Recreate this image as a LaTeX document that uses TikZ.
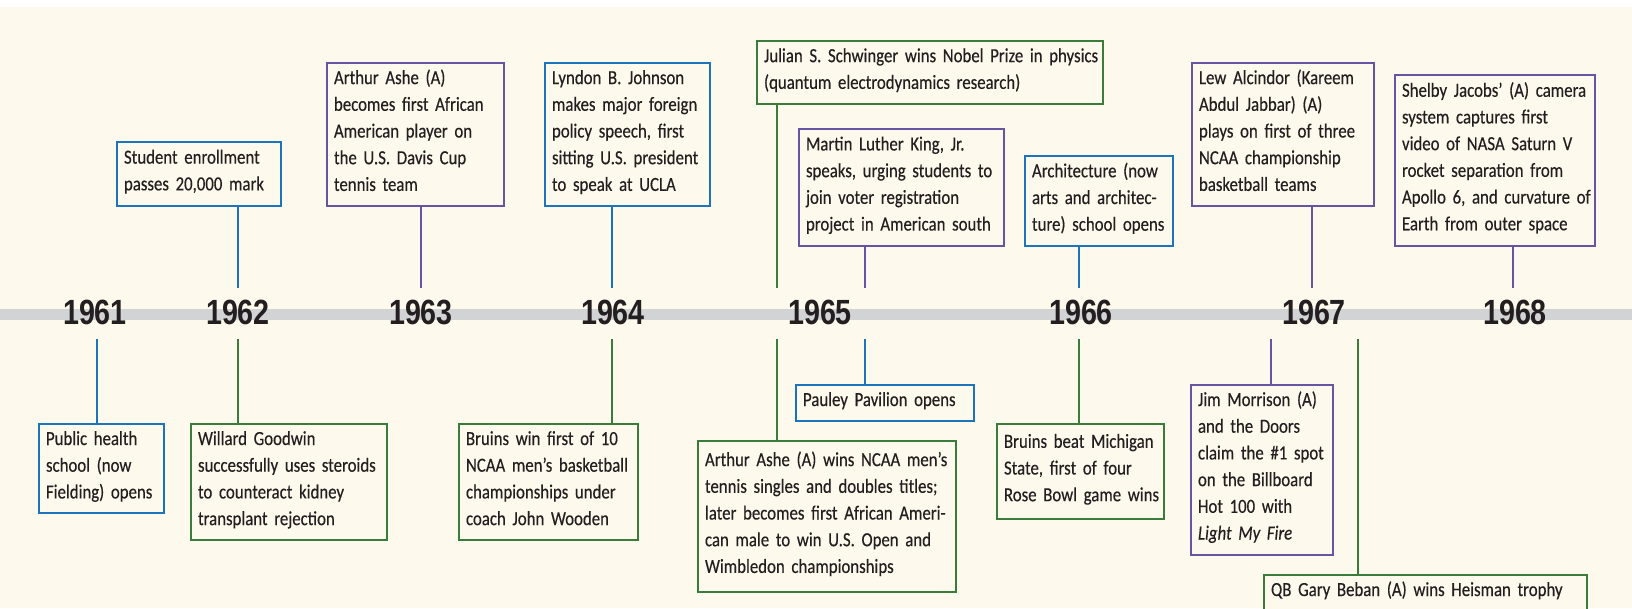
\documentclass[tikz,border=0pt]{standalone}
\usepackage{fontspec}
\setmainfont[FakeStretch=0.84,FakeBold=0.35]{Carlito}
\newfontfamily\yearfont[FakeStretch=0.82]{Liberation Sans}
\definecolor{cream}{RGB}{253,249,236}
\definecolor{barg}{RGB}{209,211,212}
\definecolor{cblue}{RGB}{28,117,188}
\definecolor{cpurple}{RGB}{104,84,160}
\definecolor{cgreen}{RGB}{58,125,58}
\definecolor{ink}{RGB}{35,31,32}
\newcommand\tb[1]{\rule{0pt}{21pt}#1\rule[-15pt]{0pt}{15pt}}
\tikzset{
  evt/.style={draw, line width=2pt, fill=cream, anchor=north west,
    inner xsep=7pt, inner ysep=0pt, align=left, text=ink,
    font=\fontsize{20}{26.7}\selectfont},
  evb/.style={evt, draw=cblue},
  evp/.style={evt, draw=cpurple},
  evg/.style={evt, draw=cgreen},
  link/.style={line width=2pt},
  yr/.style={text=ink, inner sep=0pt, font=\yearfont\bfseries\fontsize{35}{35}\selectfont}
}
\begin{document}
\begin{tikzpicture}[x=1pt,y=-1pt]
\useasboundingbox (0,0) rectangle (1632,608);
\clip (0,0) rectangle (1632,608);
\fill[white] (0,0) rectangle (1632,608);
\fill[cream] (0,7) rectangle (1632,608);
\fill[barg] (0,309) rectangle (1632,320);

% years
\node[yr] (y61) at (95,312.5) {1961};
\node[yr] (y62) at (238,312.5) {1962};
\node[yr] (y63) at (421,312.5) {1963};
\node[yr] (y64) at (613,312.5) {1964};
\node[yr] (y65) at (820,312.5) {1965};
\node[yr] (y66) at (1081,312.5) {1966};
\node[yr] (y67) at (1314,312.5) {1967};
\node[yr] (y68) at (1515,312.5) {1968};

% connector ends near the timeline
\coordinate (u62) at (238,288);
\coordinate (u63) at (421,288);
\coordinate (u64) at (612,288);
\coordinate (u65a) at (777,288);
\coordinate (u65b) at (865,288);
\coordinate (u66) at (1079,288);
\coordinate (u67) at (1312,288);
\coordinate (u68) at (1513,288);
\coordinate (d61) at (97,339);
\coordinate (d62) at (238,339);
\coordinate (d64) at (612,339);
\coordinate (d65a) at (777,339);
\coordinate (d65b) at (865,339);
\coordinate (d66) at (1079,339);
\coordinate (d67a) at (1271,339);
\coordinate (d67b) at (1358,339);

% upper events
\node[evb, text width=150pt, minimum height=64pt] (enroll) at (116,141)
  {\tb{\mbox{Student enrollment}\\\mbox{passes 20,000 mark}}};
\node[evp, text width=163pt, minimum height=143pt] (ashe63) at (326,62)
  {\tb{\mbox{Arthur Ashe (A)}\\\mbox{becomes first African}\\\mbox{American player on}\\\mbox{the U.S. Davis Cup}\\\mbox{tennis team}}};
\node[evb, text width=151pt, minimum height=143pt] (lbj) at (544,62)
  {\tb{\mbox{Lyndon B. Johnson}\\\mbox{makes major foreign}\\\mbox{policy speech, first}\\\mbox{sitting U.S. president}\\\mbox{to speak at UCLA}}};
\node[evg, text width=332pt, minimum height=63pt] (schwinger) at (756,40)
  {\tb{\mbox{Julian S. Schwinger wins Nobel Prize in physics}\\\mbox{(quantum electrodynamics research)}}};
\node[evp, text width=191pt, minimum height=117pt] (mlk) at (798,128)
  {\tb{\mbox{Martin Luther King, Jr.}\\\mbox{speaks, urging students to}\\\mbox{join voter registration}\\\mbox{project in American south}}};
\node[evb, text width=134pt, minimum height=90pt] (arch) at (1024,155)
  {\tb{\mbox{Architecture (now}\\\mbox{arts and architec-}\\\mbox{ture) school opens}}};
\node[evp, text width=168pt, minimum height=143pt] (alcindor) at (1191,62)
  {\tb{\mbox{Lew Alcindor (Kareem}\\\mbox{Abdul Jabbar) (A)}\\\mbox{plays on first of three}\\\mbox{NCAA championship}\\\mbox{basketball teams}}};
\node[evp, text width=186pt, minimum height=171pt] (jacobs) at (1394,74)
  {\tb{\mbox{Shelby Jacobs' (A) camera}\\\mbox{system captures first}\\\mbox{video of NASA Saturn V}\\\mbox{rocket separation from}\\\mbox{Apollo 6, and curvature of}\\\mbox{Earth from outer space}}};

% lower events
\node[evb, text width=111pt, minimum height=89pt] (health) at (38,423)
  {\tb{\mbox{Public health}\\\mbox{school (now}\\\mbox{Fielding) opens}}};
\node[evg, text width=182pt, minimum height=116pt] (goodwin) at (190,423)
  {\tb{\mbox{Willard Goodwin}\\\mbox{successfully uses steroids}\\\mbox{to counteract kidney}\\\mbox{transplant rejection}}};
\node[evg, text width=165pt, minimum height=116pt] (bruins10) at (458,423)
  {\tb{\mbox{Bruins win first of 10}\\\mbox{NCAA men's basketball}\\\mbox{championships under}\\\mbox{coach John Wooden}}};
\node[evg, text width=244pt, minimum height=151pt] (ashe65) at (697,440)
  {\tb{\mbox{Arthur Ashe (A) wins NCAA men's}\\\mbox{tennis singles and doubles titles;}\\\mbox{later becomes first African Ameri-}\\\mbox{can male to win U.S. Open and}\\\mbox{Wimbledon championships}}};
\node[evb, text width=164pt, minimum height=36pt] (pauley) at (795,384)
  {\tb{\mbox{Pauley Pavilion opens}}};
\node[evg, text width=153pt, minimum height=95pt] (rosebowl) at (996,423)
  {\tb{\mbox{Bruins beat Michigan}\\\mbox{State, first of four}\\\mbox{Rose Bowl game wins}}};
\node[evp, text width=128pt, minimum height=169pt] (doors) at (1190,384)
  {\tb{\mbox{Jim Morrison (A)}\\\mbox{and the Doors}\\\mbox{claim the \#1 spot}\\\mbox{on the Billboard}\\\mbox{Hot 100 with}\\\mbox{\textit{Light My Fire}}}};
\node[evg, text width=309pt, minimum height=36pt] (beban) at (1263,574)
  {\tb{\mbox{QB Gary Beban (A) wins Heisman trophy}}};

% connectors
\draw[link, cblue]   (u62 |- enroll.south) -- (u62);
\draw[link, cpurple] (u63 |- ashe63.south) -- (u63);
\draw[link, cblue]   (u64 |- lbj.south) -- (u64);
\draw[link, cgreen]  (u65a |- schwinger.south) -- (u65a);
\draw[link, cpurple] (u65b |- mlk.south) -- (u65b);
\draw[link, cblue]   (u66 |- arch.south) -- (u66);
\draw[link, cpurple] (u67 |- alcindor.south) -- (u67);
\draw[link, cpurple] (u68 |- jacobs.south) -- (u68);
\draw[link, cblue]   (d61) -- (d61 |- health.north);
\draw[link, cgreen]  (d62) -- (d62 |- goodwin.north);
\draw[link, cgreen]  (d64) -- (d64 |- bruins10.north);
\draw[link, cgreen]  (d65a) -- (d65a |- ashe65.north);
\draw[link, cblue]   (d65b) -- (d65b |- pauley.north);
\draw[link, cgreen]  (d66) -- (d66 |- rosebowl.north);
\draw[link, cpurple] (d67a) -- (d67a |- doors.north);
\draw[link, cgreen]  (d67b) -- (d67b |- beban.north);
\end{tikzpicture}
\end{document}
